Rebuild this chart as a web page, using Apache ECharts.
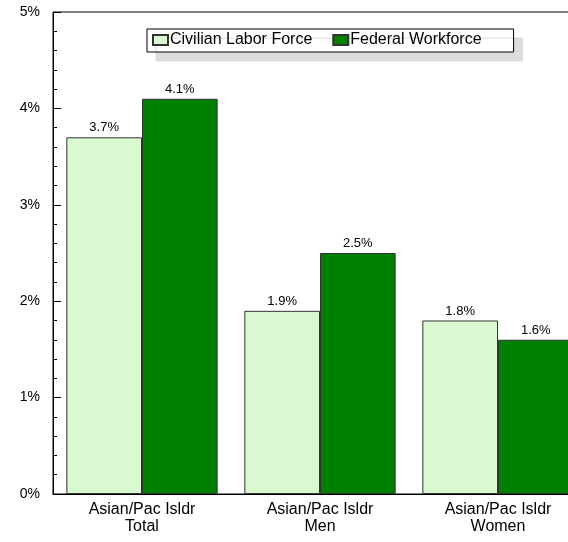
<!DOCTYPE html>
<html>
<head>
<meta charset="utf-8">
<script src="https://cdn.jsdelivr.net/npm/echarts@6/dist/echarts.min.js"></script>
<style>
  html, body { margin: 0; padding: 0; background: #fff; overflow: hidden; }
  /* plot frame runs past the right edge of the window */
  #chart { width: 587px; height: 542px; }
</style>
</head>
<body>
<div id="chart"></div>
<script>
// Asian / Pacific Islander representation, civilian labor force vs federal workforce
const categories = ['Asian/Pac Isldr\nTotal', 'Asian/Pac Isldr\nMen', 'Asian/Pac Isldr\nWomen'];
const civilianLaborForce = [3.7, 1.9, 1.8];
const federalWorkforce = [4.1, 2.5, 1.6];
const yTicks = [0, 1, 2, 3, 4, 5];

const font = 'Liberation Sans, Arial, sans-serif';
const lightGreen = '#d9fad0';
const darkGreen = '#008000';

const chart = echarts.init(document.getElementById('chart'), null, { renderer: 'canvas' });

const labelFmt = p => p.value.toFixed(1) + '%';

chart.setOption({
  animation: false,
  textStyle: { fontFamily: font },
  grid: {
    left: 53, top: 12, right: 0, bottom: 48,
    show: true, borderColor: '#000', borderWidth: 1, backgroundColor: 'transparent'
  },
  legend: {
    left: 147, top: 29,
    padding: [3, 32, 4, 5],
    icon: 'rect',
    itemWidth: 15, itemHeight: 10, itemGap: 20,
    backgroundColor: '#fff',
    borderColor: '#000', borderWidth: 1,
    shadowColor: '#dcdcdc', shadowBlur: 0, shadowOffsetX: 9, shadowOffsetY: 9,
    textStyle: { fontFamily: font, fontSize: 16, color: '#000', padding: [3, 0, 0, -3] },
    data: ['Civilian Labor Force', 'Federal Workforce']
  },
  xAxis: {
    type: 'category',
    data: categories,
    axisLine: { show: true, lineStyle: { color: '#000', width: 1 } },
    axisTick: { show: false },
    axisLabel: { fontFamily: font, fontSize: 16, color: '#000', margin: 7, lineHeight: 17 }
  },
  yAxis: {
    type: 'value',
    min: yTicks[0], max: yTicks[yTicks.length - 1], interval: 1,
    splitLine: { show: false },
    axisLine: { show: true, lineStyle: { color: '#000', width: 1 } },
    axisTick: { show: true, inside: true, length: 8, lineStyle: { color: '#000' } },
    minorTick: { show: true, splitNumber: 5, length: 4, lineStyle: { color: '#000' } },
    axisLabel: { fontFamily: font, fontSize: 14, color: '#000', margin: 13, padding: [6, 0, 0, 0], formatter: v => v + '%' }
  },
  series: [
    {
      name: 'Civilian Labor Force', type: 'bar', data: civilianLaborForce,
      barGap: '0%', barCategoryGap: '15%',
      itemStyle: { color: lightGreen, borderColor: '#333', borderWidth: 1 },
      label: { show: true, position: 'top', distance: 3, fontFamily: font, fontSize: 13, color: '#000', formatter: labelFmt }
    },
    {
      name: 'Federal Workforce', type: 'bar', data: federalWorkforce,
      barGap: '0%', barCategoryGap: '15%',
      itemStyle: { color: darkGreen, borderColor: '#333', borderWidth: 1 },
      label: { show: true, position: 'top', distance: 3, fontFamily: font, fontSize: 13, color: '#000', formatter: labelFmt }
    }
  ]
});
</script>
</body>
</html>
